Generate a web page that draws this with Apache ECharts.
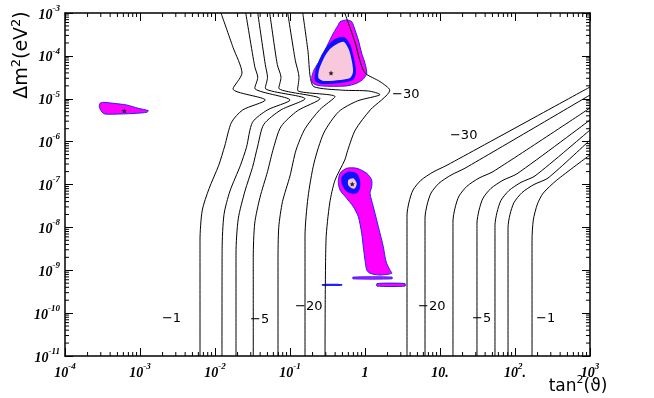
<!DOCTYPE html>
<html>
<head>
<meta charset="utf-8">
<script src="https://cdn.jsdelivr.net/npm/echarts@6/dist/echarts.min.js"></script>
<style>
  html, body { margin: 0; padding: 0; background: #fff; }
  #chart { width: 654px; height: 398px; }
</style>
</head>
<body>
<div id="chart"></div>
<script>
// all points are [log10 tan^2(theta), log10 dm^2]
const xTickLabels = [['10','-4'],['10','-3'],['10','-2'],['10','-1'],['1',''],['10.',''],['10','2','.'],['10','3']];
const yTickLabels = [['10','-11'],['10','-10'],['10','-9'],['10','-8'],['10','-7'],['10','-6'],['10','-5'],['10','-4'],['10','-3']];
const minorSteps = [2,3,4,5,6,7,8,9];

// left family of iso-lines
const contourL1 = [[-1.92,-3],[-1.76,-3.8],[-1.64,-4.4],[-1.76,-4.77],[-1.33,-5.03],[-1.63,-5.26],[-1.78,-5.55],[-1.87,-6.1],[-1.95,-6.55],[-2.08,-7.1],[-2.17,-7.6],[-2.2,-8.3],[-2.2,-11]];
const contourL2 = [[-1.59,-3],[-1.47,-4.25],[-1.43,-4.5],[-1.47,-4.75],[-1.0,-5.03],[-1.3,-5.26],[-1.5,-5.55],[-1.58,-6.13],[-1.66,-6.55],[-1.8,-7.15],[-1.88,-7.7],[-1.905,-8.5],[-1.907,-11]];
const contourL3 = [[-1.43,-3],[-1.33,-4.2],[-1.3,-4.5],[-1.33,-4.75],[-0.8,-5.0],[-1.12,-5.26],[-1.35,-5.6],[-1.43,-6.1],[-1.5,-6.6],[-1.6,-7.15],[-1.69,-7.8],[-1.72,-8.6],[-1.72,-11]];
const contourL4 = [[-1.27,-3],[-1.17,-4.2],[-1.12,-4.5],[-1.15,-4.75],[-0.6,-5.0],[-0.9,-5.28],[-1.12,-5.65],[-1.22,-6.15],[-1.3,-6.7],[-1.4,-7.3],[-1.47,-7.9],[-1.49,-8.7],[-1.49,-11]];
const contourL5 = [[-1.03,-3],[-0.93,-4.1],[-0.88,-4.5],[-0.9,-4.8],[-0.4,-4.95],[-0.6,-5.25],[-0.8,-5.7],[-0.92,-6.2],[-1.0,-6.8],[-1.1,-7.4],[-1.15,-8.0],[-1.16,-8.8],[-1.16,-11]];
const contourL6 = [[-0.83,-3],[-0.76,-3.9],[-0.73,-4.5],[-0.68,-4.72],[-0.3,-4.8],[0.05,-4.82],[0.2,-4.9],[-0.1,-5.05],[-0.35,-5.3],[-0.55,-5.8],[-0.68,-6.5],[-0.76,-7.3],[-0.8,-8.2],[-0.8,-11]];
const contourL7 = [[-0.27,-3],[-0.13,-3.7],[-0.07,-4.1],[0.0,-4.4],[0.2,-4.6],[0.33,-4.8],[0.07,-5.26],[-0.13,-5.73],[-0.23,-6.2],[-0.27,-6.43],[-0.4,-6.9],[-0.47,-7.43],[-0.52,-8.3],[-0.533,-11]];

// right family of iso-lines
const contourR1 = [[0.56,-11],[0.56,-7.99],[0.56,-7.71],[0.587,-7.41],[0.64,-7.13],[0.747,-6.9],[0.907,-6.71],[1.093,-6.55],[3,-4.726]];
const contourR2 = [[0.8,-11],[0.8,-8.06],[0.8,-7.78],[0.827,-7.48],[0.88,-7.2],[0.987,-6.97],[1.147,-6.78],[1.333,-6.62],[3,-4.913]];
const contourR3 = [[1.173,-11],[1.173,-8.1],[1.173,-7.85],[1.2,-7.55],[1.253,-7.27],[1.36,-7.04],[1.52,-6.85],[1.707,-6.7],[3,-5.216]];
const contourR4 = [[1.493,-11],[1.493,-8.15],[1.493,-7.9],[1.52,-7.6],[1.573,-7.32],[1.68,-7.09],[1.84,-6.9],[2.027,-6.75],[3,-5.496]];
const contourR5 = [[1.733,-11],[1.733,-8.2],[1.733,-7.95],[1.76,-7.65],[1.813,-7.37],[1.92,-7.14],[2.08,-6.95],[2.267,-6.8],[3,-5.729]];
const contourR6 = [[1.907,-11],[1.907,-8.25],[1.907,-8.0],[1.933,-7.7],[1.987,-7.42],[2.093,-7.19],[2.253,-7.0],[2.44,-6.85],[3,-5.962]];
const contourR7 = [[2.227,-11],[2.227,-8.3],[2.244,-7.83],[2.3,-7.45],[2.377,-7.2],[2.556,-6.9],[3,-6.31]];

// allowed regions
const lmaOuter = [[-0.333,-3.203],[-0.244,-3.163],[-0.177,-3.203],[-0.133,-3.397],[-0.089,-3.63],[-0.044,-3.94],[0.0,-4.173],[0.023,-4.406],[-0.023,-4.54],[-0.111,-4.64],[-0.244,-4.7],[-0.467,-4.71],[-0.623,-4.69],[-0.7,-4.63],[-0.71,-4.5],[-0.68,-4.33],[-0.6,-4.096],[-0.511,-3.786],[-0.423,-3.473],[-0.356,-3.28]];
const lmaMid = [[-0.4,-3.606],[-0.28,-3.56],[-0.2,-3.723],[-0.147,-4.05],[-0.12,-4.376],[-0.16,-4.563],[-0.333,-4.633],[-0.573,-4.656],[-0.667,-4.586],[-0.66,-4.329],[-0.587,-4.003],[-0.493,-3.746]];
const lmaInner = [[-0.373,-3.723],[-0.28,-3.676],[-0.213,-3.863],[-0.173,-4.143],[-0.16,-4.376],[-0.2,-4.516],[-0.333,-4.563],[-0.547,-4.586],[-0.62,-4.516],[-0.613,-4.329],[-0.547,-4.05],[-0.467,-3.84]];
const lowOuter = [[-0.333,-6.739],[-0.244,-6.622],[-0.111,-6.622],[0.023,-6.739],[0.089,-6.895],[0.089,-7.051],[0.067,-7.205],[0.111,-7.518],[0.156,-7.828],[0.2,-8.138],[0.244,-8.451],[0.267,-8.684],[0.289,-8.838],[0.333,-8.994],[0.356,-9.071],[0.2,-9.111],[0.067,-9.071],[0.023,-8.994],[0.0,-8.761],[-0.023,-8.451],[-0.044,-8.138],[-0.089,-7.751],[-0.156,-7.518],[-0.244,-7.322],[-0.333,-7.128],[-0.356,-6.935]];
const lowMid = [[-0.311,-6.818],[-0.223,-6.701],[-0.111,-6.739],[-0.067,-6.895],[-0.067,-7.089],[-0.111,-7.205],[-0.2,-7.205],[-0.267,-7.128],[-0.311,-6.972]];
const lowInner = [[-0.223,-6.895],[-0.156,-6.855],[-0.111,-6.972],[-0.133,-7.089],[-0.177,-7.089],[-0.223,-7.012]];
const lowStripeA = [[-0.16,-9.16],[0.36,-9.16],[0.36,-9.2],[-0.16,-9.2]];
const lowStripeB = [[-0.573,-9.32],[-0.307,-9.32],[-0.307,-9.36],[-0.573,-9.36]];
const lowStripeC = [[0.16,-9.31],[0.533,-9.31],[0.533,-9.37],[0.16,-9.37]];
const smaOuter = [[-3.533,-5.106],[-3.489,-5.083],[-3.356,-5.106],[-3.177,-5.146],[-3.023,-5.223],[-2.889,-5.279],[-2.911,-5.316],[-3.044,-5.339],[-3.267,-5.356],[-3.467,-5.356],[-3.511,-5.302],[-3.543,-5.185]];

const bestFits = [[-0.453,-4.40],[-0.17,-6.99],[-3.21,-5.28]];

const lineLabels = ['\u22121','\u22125','\u221220','\u221230','\u221230','\u221220','\u22125','\u22121'];
const lineLabelPos = [[-2.707,-10.137],[-1.533,-10.16],[-0.933,-9.857],[0.36,-4.913],[1.133,-5.869],[0.707,-9.857],[1.427,-10.137],[2.28,-10.137]];

const P = (p) => [Math.pow(10, p[0]), Math.pow(10, p[1])];

const chart = echarts.init(document.getElementById('chart'));

const tickFont = { fontFamily: 'Liberation Serif', fontStyle: 'italic', fontWeight: 'bold', color: '#000' };
const tickRich = {
  b: Object.assign({ fontSize: 14, verticalAlign: 'bottom', lineHeight: 18 }, tickFont),
  s: Object.assign({ fontSize: 9, verticalAlign: 'top', lineHeight: 18 }, tickFont)
};
function fmt(lab) {
  let s = '{b|' + lab[0] + '}';
  if (lab[1]) s += '{s|' + lab[1] + '}';
  if (lab[2]) s += '{b|' + lab[2] + '}';
  return s;
}

function polySeries(pts, fill, stroke, lw) {
  return {
    type: 'custom', silent: true, z: 2,
    data: [[1, 1e-5]],
    renderItem: function (params, api) {
      return {
        type: 'polygon',
        shape: { points: pts.map(p => api.coord(P(p))), smooth: 0.25 },
        style: { fill: fill, stroke: stroke || null, lineWidth: lw || 0 }
      };
    }
  };
}

function lineSeries(pts) {
  return {
    type: 'line', silent: true, z: 3,
    showSymbol: false, symbol: 'none',
    smooth: 0.25,
    data: pts.map(P),
    lineStyle: { color: '#000', width: 1 }
  };
}

const series = [];
series.push(polySeries(smaOuter, '#ff00ff', '#2020ff', 1));
series.push(polySeries(lmaOuter, '#ff00ff', '#2020ff', 1));
series.push(polySeries(lmaMid, '#1010ff'));
series.push(polySeries(lmaInner, '#f8c8dc'));
series.push(polySeries(lowOuter, '#ff00ff', '#2020ff', 1));
series.push(polySeries(lowMid, '#1010ff'));
series.push(polySeries(lowInner, '#f8c8dc'));
series.push(polySeries(lowStripeA, '#ff00ff', '#2020ff', 1));
series.push(polySeries(lowStripeB, '#2020ff'));
series.push(polySeries(lowStripeC, '#ff00ff', '#2020ff', 1));

[contourL1, contourL2, contourL3, contourL4, contourL5, contourL6, contourL7,
 contourR1, contourR2, contourR3, contourR4, contourR5, contourR6, contourR7].forEach(c => series.push(lineSeries(c)));

series.push({
  type: 'scatter', silent: true, z: 5,
  data: bestFits.map(P),
  symbol: 'path://M0,-10L2.9,-4L9.5,-3.1L4.8,1.5L5.9,8.1L0,5L-5.9,8.1L-4.8,1.5L-9.5,-3.1L-2.9,-4Z',
  symbolSize: 5,
  itemStyle: { color: '#000' }
});

series.push({
  type: 'custom', silent: true, z: 5,
  data: lineLabelPos.map((p, i) => [Math.pow(10, p[0]), Math.pow(10, p[1]), i]),
  renderItem: function (params, api) {
    const pt = api.coord([api.value(0), api.value(1)]);
    return {
      type: 'text', x: pt[0], y: pt[1],
      style: { text: lineLabels[api.value(2)], fill: '#000', font: '13px "DejaVu Sans"', align: 'left', verticalAlign: 'middle' }
    };
  }
});

// minor log ticks on all four sides
const minorX = [], minorY = [];
for (let e = -4; e < 3; e++) minorSteps.forEach(m => minorX.push(m * Math.pow(10, e)));
for (let e = -11; e < -3; e++) minorSteps.forEach(m => minorY.push(m * Math.pow(10, e)));
series.push({
  type: 'custom', silent: true, z: 6,
  data: [[1, 1e-5]],
  renderItem: function (params, api) {
    const children = [];
    const st = { stroke: '#000', lineWidth: 1 };
    minorX.forEach(v => {
      const b = api.coord([v, 1e-11]), t = api.coord([v, 1e-3]);
      children.push({ type: 'line', shape: { x1: b[0], y1: b[1], x2: b[0], y2: b[1] - 4 }, style: st });
      children.push({ type: 'line', shape: { x1: t[0], y1: t[1], x2: t[0], y2: t[1] + 4 }, style: st });
    });
    minorY.forEach(v => {
      const l = api.coord([1e-4, v]), r = api.coord([1e3, v]);
      children.push({ type: 'line', shape: { x1: l[0], y1: l[1], x2: l[0] + 4, y2: l[1] }, style: st });
      children.push({ type: 'line', shape: { x1: r[0], y1: r[1], x2: r[0] - 4, y2: r[1] }, style: st });
    });
    return { type: 'group', children: children };
  }
});

const axisCommon = {
  type: 'log', logBase: 10, interval: 1,
  axisLine: { show: true, onZero: false, lineStyle: { color: '#000', width: 1.5 } },
  axisTick: { show: true, inside: true, length: 8, lineStyle: { color: '#000', width: 1 } },
  splitLine: { show: false },
  minorTick: { show: false }
};

const option = {
  animation: false,
  backgroundColor: '#fff',
  grid: { left: 65, right: 64, top: 13, bottom: 42 },
  xAxis: [
    Object.assign({}, axisCommon, {
      min: 1e-4, max: 1e3, position: 'bottom',
      axisLabel: {
        margin: 6, rich: tickRich,
        formatter: v => fmt(xTickLabels[Math.round(Math.log10(v)) + 4])
      }
    }),
    Object.assign({}, axisCommon, { min: 1e-4, max: 1e3, position: 'top', axisLabel: { show: false } })
  ],
  yAxis: [
    Object.assign({}, axisCommon, {
      min: 1e-11, max: 1e-3, position: 'left',
      axisLabel: {
        margin: 5, rich: tickRich,
        formatter: v => fmt(yTickLabels[Math.round(Math.log10(v)) + 11])
      }
    }),
    Object.assign({}, axisCommon, { min: 1e-11, max: 1e-3, position: 'right', axisLabel: { show: false } })
  ],
  graphic: [
    {
      type: 'text', x: 21, y: 55, rotation: Math.PI / 2,
      style: {
        text: '{a|\u0394m}{s|2}{a|(eV}{s|2}{a|)}',
        align: 'center', verticalAlign: 'middle',
        rich: {
          a: { fontSize: 19, fontFamily: 'DejaVu Sans', verticalAlign: 'bottom', lineHeight: 22, color: '#000' },
          s: { fontSize: 13, fontFamily: 'DejaVu Sans', verticalAlign: 'top', lineHeight: 22, color: '#000' }
        }
      }
    },
    {
      type: 'text', x: 578, y: 385,
      style: {
        text: '{a|tan}{s|2}{a|(\u03d1)}',
        align: 'center', verticalAlign: 'middle',
        rich: {
          a: { fontSize: 17, fontFamily: 'DejaVu Sans', verticalAlign: 'bottom', lineHeight: 20, color: '#000' },
          s: { fontSize: 11, fontFamily: 'DejaVu Sans', verticalAlign: 'top', lineHeight: 20, color: '#000' }
        }
      }
    }
  ],
  series: series
};

chart.setOption(option);
</script>
</body>
</html>
